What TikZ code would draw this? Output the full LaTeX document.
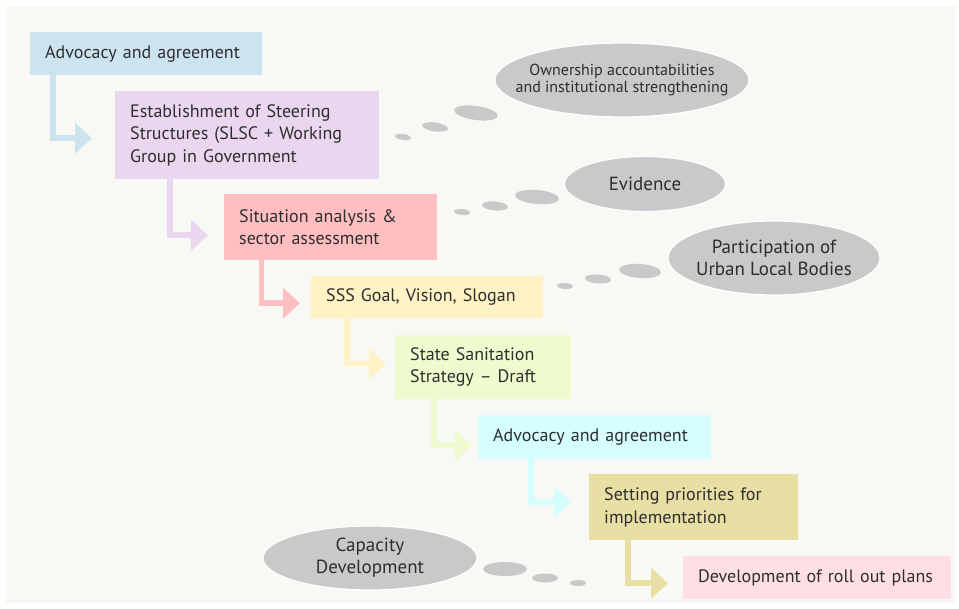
\documentclass[tikz,border=0pt]{standalone}
\usepackage{fontspec}
\setmainfont{PT Sans}
\usetikzlibrary{arrows.meta,shapes.geometric}

\definecolor{panel}{HTML}{F8F9F4}
\definecolor{ink}{HTML}{2E2E2E}
\definecolor{cloud}{HTML}{C8C9CB}
\definecolor{cblue}{HTML}{CCE3F0}
\definecolor{cviolet}{HTML}{EBD6EF}
\definecolor{cred}{HTML}{FFBFC0}
\definecolor{cyellow}{HTML}{FFF2C4}
\definecolor{cgreen}{HTML}{EDFBCF}
\definecolor{ccyan}{HTML}{D5FEFF}
\definecolor{cochre}{HTML}{E8DFA5}
\definecolor{cpink}{HTML}{FFDFE5}

\tikzset{
  stage/.style={anchor=north west,inner xsep=0pt,inner ysep=0pt,text=ink,
    font=\fontsize{18}{22.5}\selectfont,
    execute at begin node={\leftskip=15pt\rightskip=0pt plus 1fil\parindent=0pt\parfillskip=0pt plus 1fil}},
  note/.style={ellipse,fill=cloud,draw=white,line width=1.2pt,inner sep=0pt,
    align=center,text=ink,font=\fontsize{19}{22}\selectfont},
  flow/.style={line width=5.5pt,line join=miter,-{Triangle[width=30pt,length=17pt]}},
  bubble/.style={fill=cloud}
}

\begin{document}
\begin{tikzpicture}[x=1pt,y=-1pt]
\useasboundingbox (0,0) rectangle (959,609);
\fill[panel] (6,6) rectangle (956,603);
% steps
\node[stage,fill=cblue,minimum height=43,text width=232] (s1) at (30,32) {Advocacy and agreement};
\node[stage,fill=cviolet,minimum height=88,text width=264] (s2) at (115,91) {Establishment of Steering\\Structures (SLSC + Working\\Group in Government};
\node[stage,fill=cred,minimum height=66,text width=213] (s3) at (224,194) {Situation analysis \&\\sector assessment};
\node[stage,fill=cyellow,minimum height=42,text width=232] (s4) at (311,276) {SSS Goal, Vision, Slogan};
\node[stage,fill=cgreen,minimum height=64,text width=176] (s5) at (395,335) {State Sanitation\\Strategy -- Draft};
\node[stage,fill=ccyan,minimum height=44,text width=233] (s6) at (478,415) {Advocacy and agreement};
\node[stage,fill=cochre,minimum height=66,text width=209] (s7) at (589,474) {Setting priorities for\\implementation};
\node[stage,fill=cpink,minimum height=43,text width=268] (s8) at (683,556) {Development of roll out plans};
% arrows
\draw[flow,cblue] ([xshift=23]s1.south west) |- ([xshift=-23,yshift=-3]s2.west);
\draw[flow,cviolet] ([xshift=55]s2.south west) |- ([xshift=-16,yshift=-8]s3.west);
\draw[flow,cred] ([xshift=37.5]s3.south west) |- ([xshift=-11,yshift=-6]s4.west);
\draw[flow,cyellow] ([xshift=36]s4.south west) |- ([xshift=-9,yshift=3.5]s5.west);
\draw[flow,cgreen] ([xshift=39]s5.south west) |- ([xshift=-6,yshift=-8]s6.west);
\draw[flow,ccyan] ([xshift=53]s6.south west) |- ([xshift=-18,yshift=5]s7.west);
\draw[flow,cochre] ([xshift=39]s7.south west) |- ([xshift=-15,yshift=-5.5]s8.west);
% clouds
\node[note,minimum width=254,minimum height=74,inner xsep=-18pt,font=\fontsize{16}{17}\selectfont] (c1) at (622,80) {Ownership accountabilities\\and institutional strengthening};
\node[note,minimum width=161,minimum height=55] (c2) at (645,184) {Evidence};
\node[note,minimum width=212,minimum height=74,inner xsep=-5pt] (c3) at (774,258) {Participation of\\Urban Local Bodies};
\node[note,minimum width=214,minimum height=64] (c4) at (370,558) {Capacity\\Development};
% bubbles
\fill[bubble,rotate around={-8:(476,113)}] (476,113) ellipse (22 and 7);
\fill[bubble,rotate around={-8:(435,127)}] (435,127) ellipse (13 and 4.5);
\fill[bubble,rotate around={-8:(403,137)}] (403,137) ellipse (8 and 3);
\fill[bubble,rotate around={-5:(537,197)}] (537,197) ellipse (22 and 7);
\fill[bubble,rotate around={-5:(495,206)}] (495,206) ellipse (13 and 4.5);
\fill[bubble,rotate around={-5:(462,212)}] (462,212) ellipse (8 and 3);
\fill[bubble,rotate around={-4:(640,271)}] (640,271) ellipse (21 and 7);
\fill[bubble,rotate around={-4:(598,279)}] (598,279) ellipse (13 and 4.5);
\fill[bubble,rotate around={-4:(565,286)}] (565,286) ellipse (8 and 3);
\fill[bubble] (505,569) ellipse (22 and 7);
\fill[bubble] (545,578) ellipse (13 and 4.5);
\fill[bubble] (578,583) ellipse (8 and 3);
\end{tikzpicture}
\end{document}
